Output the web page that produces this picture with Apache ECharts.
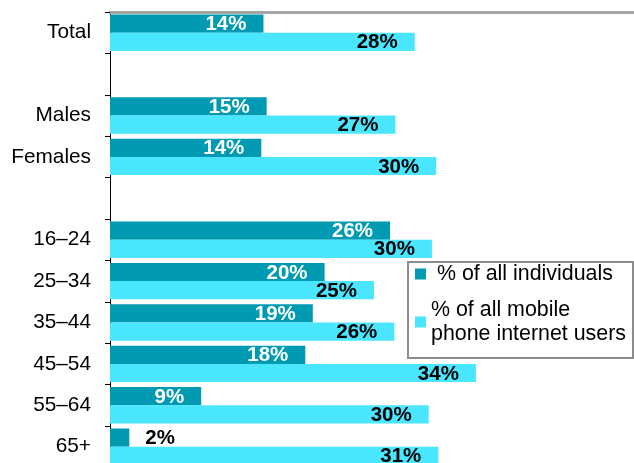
<!DOCTYPE html>
<html>
<head>
<meta charset="utf-8">
<script src="https://cdn.jsdelivr.net/npm/echarts@6/dist/echarts.min.js"></script>
<style>
html,body{margin:0;padding:0;background:#fff;}
#chart{width:634px;height:463px;}
</style>
</head>
<body>
<div id="chart"></div>
<script>
// ---- data ----
const categories = ['Total', '', 'Males', 'Females', ' ', '16–24', '25–34', '35–44', '45–54', '55–64', '65+'];
const seriesNames = ['% of all individuals', '% of all mobile\nphone internet users'];
const allIndividuals = [14.3, null, 14.6, 14.1, null, 26.1, 20.0, 18.9, 18.2, 8.5, 1.8];
const mobileInternetUsers = [28.4, null, 26.6, 30.4, null, 30.0, 24.6, 26.5, 34.1, 29.7, 30.6];
const individualLabels = ['14%', '', '15%', '14%', '', '26%', '20%', '19%', '18%', '9%', '2%'];
const mobileLabels = ['28%', '', '27%', '30%', '', '30%', '25%', '26%', '34%', '30%', '31%'];

const FONT = "'Liberation Sans', Arial, sans-serif";
const DARK = '#009AB3';
const LIGHT = '#4AE5FF';

function buildData(values, labels, insideColor) {
  return values.map(function (v, i) {
    if (v == null) return '-';
    const small = v < 5;
    return {
      value: v,
      label: {
        formatter: labels[i],
        position: small ? 'right' : 'insideRight',
        distance: small ? 16 : 5,
        offset: small ? [0, 1] : [-12, 1],
        color: small ? '#000' : insideColor
      }
    };
  });
}

const chart = echarts.init(document.getElementById('chart'), null, { renderer: 'canvas' });
const labelCommon = { show: true, fontFamily: FONT, fontWeight: 'bold', fontSize: 20.5 };

chart.setOption({
  animation: false,
  backgroundColor: '#fff',
  textStyle: { fontFamily: FONT },
  grid: { left: 110, top: 12, width: 536.5, height: 455.4, outerBoundsMode: 'none', containLabel: false },
  xAxis: {
    type: 'value', min: 0, max: 50, position: 'top',
    axisLine: { show: true, lineStyle: { color: '#A6A6A6', width: 3 } },
    axisTick: { show: false }, axisLabel: { show: false }, splitLine: { show: false }
  },
  yAxis: {
    type: 'category', inverse: true, data: categories,
    axisLine: { show: true, lineStyle: { color: '#000', width: 1 } },
    axisTick: { show: true, length: 5, lineStyle: { color: '#000', width: 1 } },
    axisLabel: { color: '#000', fontSize: 20.8, fontFamily: FONT, margin: 19 }
  },
  legend: {
    orient: 'vertical', left: 408, top: 262,
    padding: [0, 7, 0, 7],
    borderColor: '#8C8C8C', borderWidth: 2, backgroundColor: '#fff',
    itemWidth: 11, itemHeight: 24, itemGap: 0,
    icon: 'path://M0,6.5H11V17.5H0Z M0,0L0,0 M0,24L0,24',
    selectedMode: false,
    textStyle: { color: '#000', fontSize: 21.4, fontFamily: FONT, lineHeight: 24 },
    formatter: function (name) { return name === seriesNames[0] ? ' ' + name : name; },
    data: [
      { name: seriesNames[0] },
      { name: seriesNames[1], textStyle: { padding: [24, 0, 0, 0] } }
    ]
  },
  series: [
    {
      name: seriesNames[0], type: 'bar',
      data: buildData(allIndividuals, individualLabels, '#fff'),
      itemStyle: { color: DARK },
      barGap: '0%', barCategoryGap: '12%',
      label: labelCommon
    },
    {
      name: seriesNames[1], type: 'bar',
      data: buildData(mobileInternetUsers, mobileLabels, '#000'),
      itemStyle: { color: LIGHT },
      barGap: '0%', barCategoryGap: '12%',
      label: labelCommon
    }
  ]
});
</script>
</body>
</html>
